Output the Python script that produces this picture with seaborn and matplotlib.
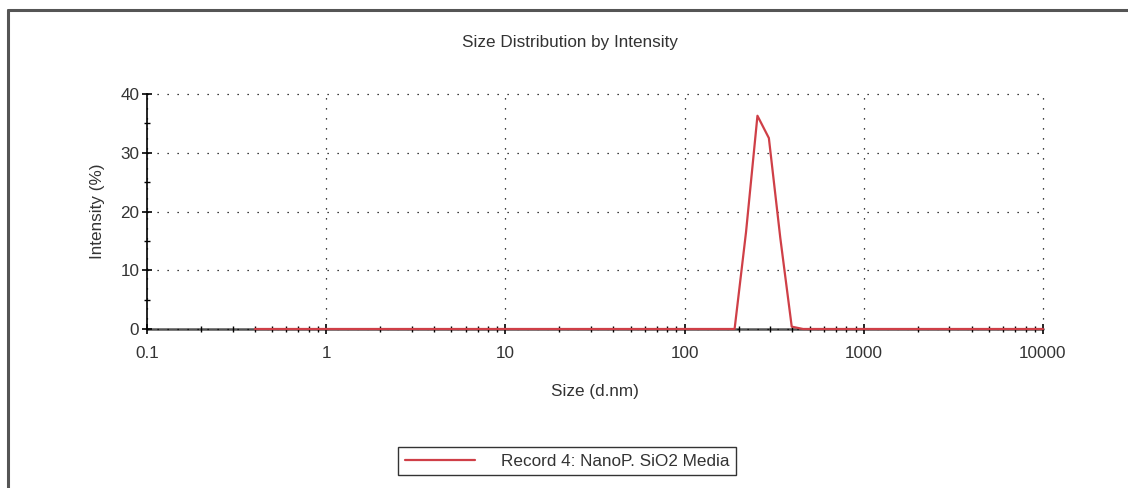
import matplotlib
matplotlib.use("Agg")
import matplotlib.pyplot as plt
import matplotlib.ticker as mticker
from matplotlib.lines import Line2D
import seaborn as sns
import pandas as pd

sns.set_style("white")
plt.rcParams['font.family'] = ['Liberation Sans', 'DejaVu Sans']

# Data
size_nm = [0.4, 190.1, 220.2, 255.0, 295.3, 342.0, 396.1, 458.7, 10000]
intensity = [0, 0, 16.5, 36.3, 32.5, 15.5, 0.4, 0, 0]
series_name = "Record 4: NanoP. SiO2 Media"
x_ticks = [0.1, 1, 10, 100, 1000, 10000]
x_tick_labels = ["0.1", "1", "10", "100", "1000", "10000"]
y_ticks = [0, 10, 20, 30, 40]

df = pd.DataFrame({"Size": size_nm, "Intensity": intensity, "Record": series_name})

fig = plt.figure(figsize=(11.28, 4.88), dpi=100)
ax = fig.add_axes([147/1128, 1-329/488, (1043-147)/1128, (329-94)/488])

txt = "#333333"
red = "#cf3f47"
fs = 12.3

# baseline axis (gray) along y=0
ax.axhline(0, color="#555555", lw=1.8, zorder=2, clip_on=False)

sns.lineplot(data=df, x="Size", y="Intensity", hue="Record", palette=[red],
             lw=1.6, ax=ax, legend=False, zorder=3, clip_on=False)

ax.set_xscale("log")
ax.set_xlim(0.1, 10000)
ax.set_ylim(0, 40)
ax.set_xticks(x_ticks)
ax.set_xticklabels(x_tick_labels)
ax.xaxis.set_minor_locator(mticker.LogLocator(base=10, subs=range(2, 10), numticks=20))
ax.xaxis.set_minor_formatter(mticker.NullFormatter())
ax.set_yticks(y_ticks)
ax.yaxis.set_minor_locator(mticker.MultipleLocator(5))

for s in ["top", "right", "bottom"]:
    ax.spines[s].set_visible(False)
ax.spines["left"].set_color("black")
ax.spines["left"].set_linewidth(1.2)

ax.tick_params(axis="both", which="both", bottom=True, left=True, top=False, right=False)
ax.tick_params(axis="both", which="major", direction="inout", length=7, width=1.2,
               colors="black", labelcolor=txt, labelsize=fs)
ax.tick_params(axis="both", which="minor", direction="inout", length=4.5, width=1.0,
               colors="black")
ax.tick_params(axis="x", which="major", pad=9)
ax.tick_params(axis="y", which="major", pad=2)

ax.grid(True, which="major", color="black", lw=0.9, linestyle=(0, (1, 7)))
for gl in ax.get_xgridlines() + ax.get_ygridlines():
    gl.set_clip_on(False)
ax.set_axisbelow(False)

ax.set_xlabel("Size (d.nm)", fontsize=fs, color=txt, labelpad=16)
ax.set_ylabel("Intensity (%)", fontsize=fs, color=txt, labelpad=11)
fig.text(570/1128, 1-42/488, "Size Distribution by Intensity", ha="center", va="center",
         fontsize=fs, color=txt)

handle = Line2D([], [], color=red, lw=1.6)
leg = fig.legend([handle], [series_name], loc="center", bbox_to_anchor=(567/1128, 1-461/488),
                 frameon=True, fancybox=False, edgecolor="black", fontsize=fs,
                 handlelength=4.1, handletextpad=1.5, borderpad=0.4, borderaxespad=0,
                 labelcolor=txt)
leg.get_frame().set_linewidth(1.0)

# outer frame (top and left edges)
fig.add_artist(Line2D([8/1128, 8/1128], [0, 1-10/488], color="#555555", lw=2.2,
                      transform=fig.transFigure))
fig.add_artist(Line2D([8/1128, 1], [1-10/488, 1-10/488], color="#555555", lw=2.2,
                      transform=fig.transFigure))

fig.savefig("out.png", dpi=100)
